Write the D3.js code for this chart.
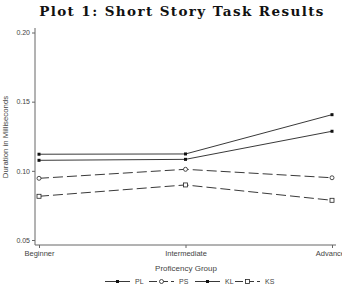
<!DOCTYPE html>
<html>
<head>
<meta charset="utf-8">
<script src="https://cdn.jsdelivr.net/npm/d3@7"></script>
<style>
  body { margin: 0; background: #fff; }
  text { font-family: "Liberation Sans", Arial, sans-serif; }
</style>
</head>
<body>
<div id="chart"></div>
<script>
var groups = ["Beginner", "Intermediate", "Advanced"];
var seriesNames = ["PL", "PS", "KL", "KS"];
var PL = [0.112, 0.1122, 0.1406];
var PS = [0.0946, 0.1011, 0.0950];
var KL = [0.1076, 0.1083, 0.1286];
var KS = [0.0816, 0.0898, 0.0787];
var yTicks = [0.05, 0.10, 0.15, 0.20];

var width = 342, height = 289;

var svg = d3.select("#chart").append("svg")
    .attr("width", width)
    .attr("height", height);

var x = d3.scalePoint().domain(groups).range([39, 332]);
var y = d3.scaleLinear().domain([0.05, 0.20]).range([240, 32.5]);

// title
svg.append("text")
    .attr("x", 182).attr("y", 16)
    .attr("text-anchor", "middle")
    .attr("fill", "#111")
    .style("font-family", "'DejaVu Serif', serif")
    .style("font-weight", "bold")
    .style("font-size", "13.5px")
    .style("letter-spacing", "1.4px")
    .text("Plot 1: Short Story Task Results");

// y axis
var yAxis = svg.append("g")
    .attr("transform", "translate(35,0)")
    .call(d3.axisLeft(y).tickValues(yTicks).tickFormat(d3.format(".2f")).tickSize(3).tickPadding(2));
yAxis.select(".domain").attr("d", "M0,28V245").attr("stroke", "#666");
yAxis.selectAll(".tick line").attr("stroke", "#666");
yAxis.selectAll(".tick text").style("font-size", "7px").attr("fill", "#444");

// x axis
var xAxis = svg.append("g")
    .attr("transform", "translate(0,245)")
    .call(d3.axisBottom(x).tickSize(3).tickPadding(3));
xAxis.select(".domain").attr("d", "M35,0H336").attr("stroke", "#666");
xAxis.selectAll(".tick line").attr("stroke", "#666");
xAxis.selectAll(".tick text").style("font-size", "7.5px").attr("fill", "#444");

svg.append("text")
    .attr("x", 186).attr("y", 271)
    .attr("text-anchor", "middle")
    .attr("fill", "#444")
    .style("font-size", "8px")
    .text("Proficency Group");

svg.append("text")
    .attr("transform", "translate(8,137) rotate(-90)")
    .attr("text-anchor", "middle")
    .attr("fill", "#444")
    .style("font-size", "7.8px")
    .text("Duration in Milliseconds");

var series = [
  { name: "PL", values: PL, dash: null, marker: "dot" },
  { name: "PS", values: PS, dash: "10,4", marker: "circle" },
  { name: "KL", values: KL, dash: null, marker: "dot" },
  { name: "KS", values: KS, dash: "10,4", marker: "square" }
];

var line = d3.line()
    .x(function (d, i) { return x(groups[i]); })
    .y(function (d) { return y(d); });

function drawMarker(g, type, cx, cy) {
  if (type === "dot") {
    g.append("rect").attr("x", cx - 1.5).attr("y", cy - 1.5)
        .attr("width", 3).attr("height", 3).attr("fill", "#111");
  } else if (type === "circle") {
    g.append("circle").attr("cx", cx).attr("cy", cy).attr("r", 2)
        .attr("fill", "#fff").attr("stroke", "#222").attr("stroke-width", 0.8);
  } else {
    g.append("rect").attr("x", cx - 2).attr("y", cy - 2)
        .attr("width", 4).attr("height", 4)
        .attr("fill", "#fff").attr("stroke", "#222").attr("stroke-width", 0.8);
  }
}

series.forEach(function (s) {
  var g = svg.append("g");
  g.append("path")
      .datum(s.values)
      .attr("d", line)
      .attr("fill", "none")
      .attr("stroke", "#222")
      .attr("stroke-width", 0.9)
      .attr("stroke-dasharray", s.dash);
  s.values.forEach(function (v, i) {
    drawMarker(g, s.marker, x(groups[i]), y(v));
  });
});

// legend
var legendX = [105, 149, 195, 235];
var legend = svg.append("g").attr("transform", "translate(0,281.5)");
series.forEach(function (s, i) {
  var lg = legend.append("g").attr("transform", "translate(" + legendX[i] + ",0)");
  lg.append("line").attr("x1", 0).attr("x2", 25).attr("y1", 0).attr("y2", 0)
      .attr("stroke", "#222").attr("stroke-width", 0.9)
      .attr("stroke-dasharray", s.dash ? "8,3" : null);
  drawMarker(lg, s.marker, 12.5, 0);
  lg.append("text").attr("x", 30).attr("y", 2.4)
      .attr("fill", "#444")
      .style("font-size", "7px")
      .text(s.name);
});
</script>
</body>
</html>
